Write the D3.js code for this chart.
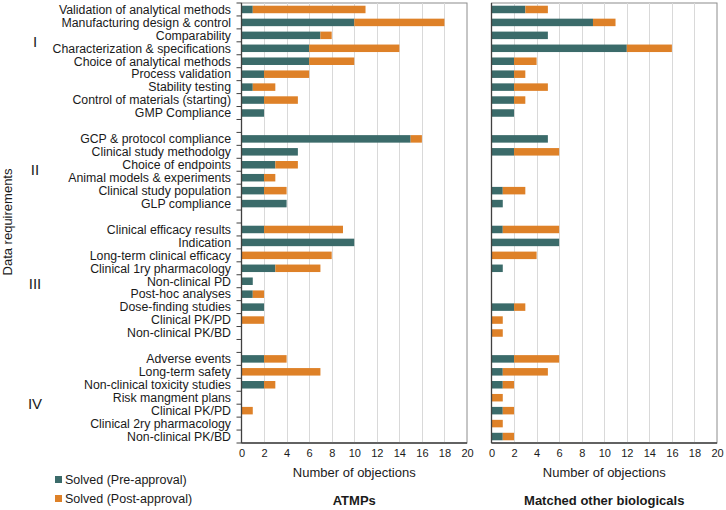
<!DOCTYPE html>
<html>
<head>
<meta charset="utf-8">
<script src="https://cdn.jsdelivr.net/npm/d3@7"></script>
<style>
  body { margin: 0; background: #fff; }
  text { font-family: "Liberation Sans", Arial, sans-serif; fill: #1a1a1a; }
</style>
</head>
<body>
<script>
// categories, "" = spacer row between groups
const categories = [
  "Validation of analytical methods", "Manufacturing design & control", "Comparability",
  "Characterization & specifications", "Choice of analytical methods", "Process validation",
  "Stability testing", "Control of materials (starting)", "GMP Compliance",
  "",
  "GCP & protocol compliance", "Clinical study methodolgy", "Choice of endpoints",
  "Animal models & experiments", "Clinical study population", "GLP compliance",
  "",
  "Clinical efficacy results", "Indication", "Long-term clinical efficacy",
  "Clinical 1ry pharmacology", "Non-clinical PD", "Post-hoc analyses",
  "Dose-finding studies", "Clinical PK/PD", "Non-clinical PK/BD",
  "",
  "Adverse events", "Long-term safety", "Non-clinical toxicity studies",
  "Risk mangment plans", "Clinical PK/PD ", "Clinical 2ry pharmacology", "Non-clinical PK/BD"
]
const groups = [{label: "I", row: 2.5}, {label: "II", row: 12.4}, {label: "III", row: 21.2}, {label: "IV", row: 30.5}]

const atmpPre  = [1,10,7,6,6,2,1,2,2, 0, 15,5,3,2,2,4, 0, 2,10,0,3,1,1,2,0,0, 0, 2,0,2,0,0,0,0]
const atmpPost = [10,8,1,8,4,4,2,3,0, 0, 1,0,2,1,2,0, 0, 7,0,8,4,0,1,0,2,0, 0, 2,7,1,0,1,0,0]
const bioPre   = [3,9,5,12,2,2,2,2,2, 0, 5,2,0,0,1,1, 0, 1,6,0,1,0,0,2,0,0, 0, 2,1,1,0,1,0,1]
const bioPost  = [2,2,0,4,2,1,3,1,0, 0, 0,4,0,0,2,0, 0, 5,0,4,0,0,0,1,1,1, 0, 4,4,1,1,1,1,1]

const xTicks = [0,2,4,6,8,10,12,14,16,18,20]
const seriesNames = ["Solved (Pre-approval)", "Solved (Post-approval)"]
const colors = ["#3b6b6a", "#de8128"]

const w = 726, h = 510
const plotTop = 3, plotBottom = 443
const svg = d3.select("body").append("svg").attr("width", w).attr("height", h)

const idx = categories.map((d, i) => i)
const yScale = d3.scaleBand().domain(idx).range([plotTop, plotBottom]).paddingInner(0.42).paddingOuter(0.21)
const step = yScale.step()

const panels = [
  {title: "ATMPs", pre: atmpPre, post: atmpPost, x0: 241.5, x1: 467, ticks: true},
  {title: "Matched other biologicals", pre: bioPre, post: bioPost, x0: 491.5, x1: 717, ticks: false}
]

panels.forEach(p => {
  const xScale = d3.scaleLinear().domain([0, 20]).range([p.x0, p.x1])
  const g = svg.append("g")

  // frame (top/right)
  g.append("rect").attr("x", p.x0).attr("y", plotTop).attr("width", p.x1 - p.x0).attr("height", plotBottom - plotTop)
    .attr("fill", "none").attr("stroke", "#8c8c8c").attr("stroke-width", 1)

  // gridlines
  g.selectAll(".grid").data(xTicks.slice(1, -1)).enter().append("line")
    .attr("x1", d => Math.round(xScale(d)) + 0.5).attr("x2", d => Math.round(xScale(d)) + 0.5)
    .attr("y1", plotTop).attr("y2", plotBottom)
    .attr("stroke", "#d9d9d9").attr("stroke-width", 1)

  // stacked bars
  const stacked = idx.map(i => ({i: i, pre: p.pre[i], post: p.post[i]}))
  g.selectAll(".pre").data(stacked.filter(d => d.pre > 0)).enter().append("rect")
    .attr("x", xScale(0)).attr("y", d => yScale(d.i))
    .attr("width", d => xScale(d.pre) - xScale(0)).attr("height", yScale.bandwidth())
    .attr("fill", colors[0])
  g.selectAll(".post").data(stacked.filter(d => d.post > 0)).enter().append("rect")
    .attr("x", d => xScale(d.pre)).attr("y", d => yScale(d.i))
    .attr("width", d => xScale(d.pre + d.post) - xScale(d.pre)).attr("height", yScale.bandwidth())
    .attr("fill", colors[1])

  // axes
  g.append("line").attr("x1", p.x0).attr("x2", p.x0).attr("y1", plotTop).attr("y2", plotBottom)
    .attr("stroke", "#404040").attr("stroke-width", 1.3)
  g.append("line").attr("x1", p.x0).attr("x2", p.x1).attr("y1", plotBottom).attr("y2", plotBottom)
    .attr("stroke", "#404040").attr("stroke-width", 1.3)

  if (p.ticks) {
    const bounds = d3.range(categories.length + 1).map(i => plotTop + i * step)
    g.selectAll(".ytick").data(bounds).enter().append("line")
      .attr("x1", p.x0 - 5).attr("x2", p.x0).attr("y1", d => d).attr("y2", d => d)
      .attr("stroke", "#404040").attr("stroke-width", 1)
  }

  const xAxis = d3.axisBottom(xScale).tickValues(xTicks).tickSize(0).tickPadding(6)
  const ax = g.append("g").attr("transform", "translate(0," + plotBottom + ")").call(xAxis)
  ax.select(".domain").remove()
  ax.selectAll("text").attr("font-size", 11).attr("font-family", "Liberation Sans, Arial, sans-serif").attr("fill", "#1a1a1a")

  g.append("text").attr("x", (p.x0 + p.x1) / 2).attr("y", 477)
    .attr("text-anchor", "middle").attr("font-size", 13).text("Number of objections")
  g.append("text").attr("x", (p.x0 + p.x1) / 2).attr("y", 505)
    .attr("text-anchor", "middle").attr("font-size", 13).attr("font-weight", "bold").text(p.title)
})

// category labels
svg.selectAll(".cat").data(idx.filter(i => categories[i] !== "")).enter().append("text")
  .attr("x", 231).attr("y", i => yScale(i) + yScale.bandwidth() / 2)
  .attr("dy", "0.35em").attr("text-anchor", "end").attr("font-size", 12.3)
  .text(i => categories[i])

// group numerals
svg.selectAll(".grp").data(groups).enter().append("text")
  .attr("x", 35).attr("y", d => plotTop + (d.row + 0.5) * step)
  .attr("dy", "0.35em").attr("text-anchor", "middle").attr("font-size", 15)
  .text(d => d.label)

svg.append("text").attr("transform", "translate(12,222) rotate(-90)")
  .attr("text-anchor", "middle").attr("font-size", 13).text("Data requirements")

// legend
const leg = svg.selectAll(".leg").data(seriesNames).enter().append("g")
  .attr("transform", (d, i) => "translate(55," + (480 + i * 19) + ")")
leg.append("rect").attr("x", 0).attr("y", -4).attr("width", 7).attr("height", 7)
  .attr("fill", (d, i) => colors[i])
leg.append("text").attr("x", 10).attr("y", 0).attr("dy", "0.35em").attr("font-size", 12.5).text(d => d)
</script>
</body>
</html>
